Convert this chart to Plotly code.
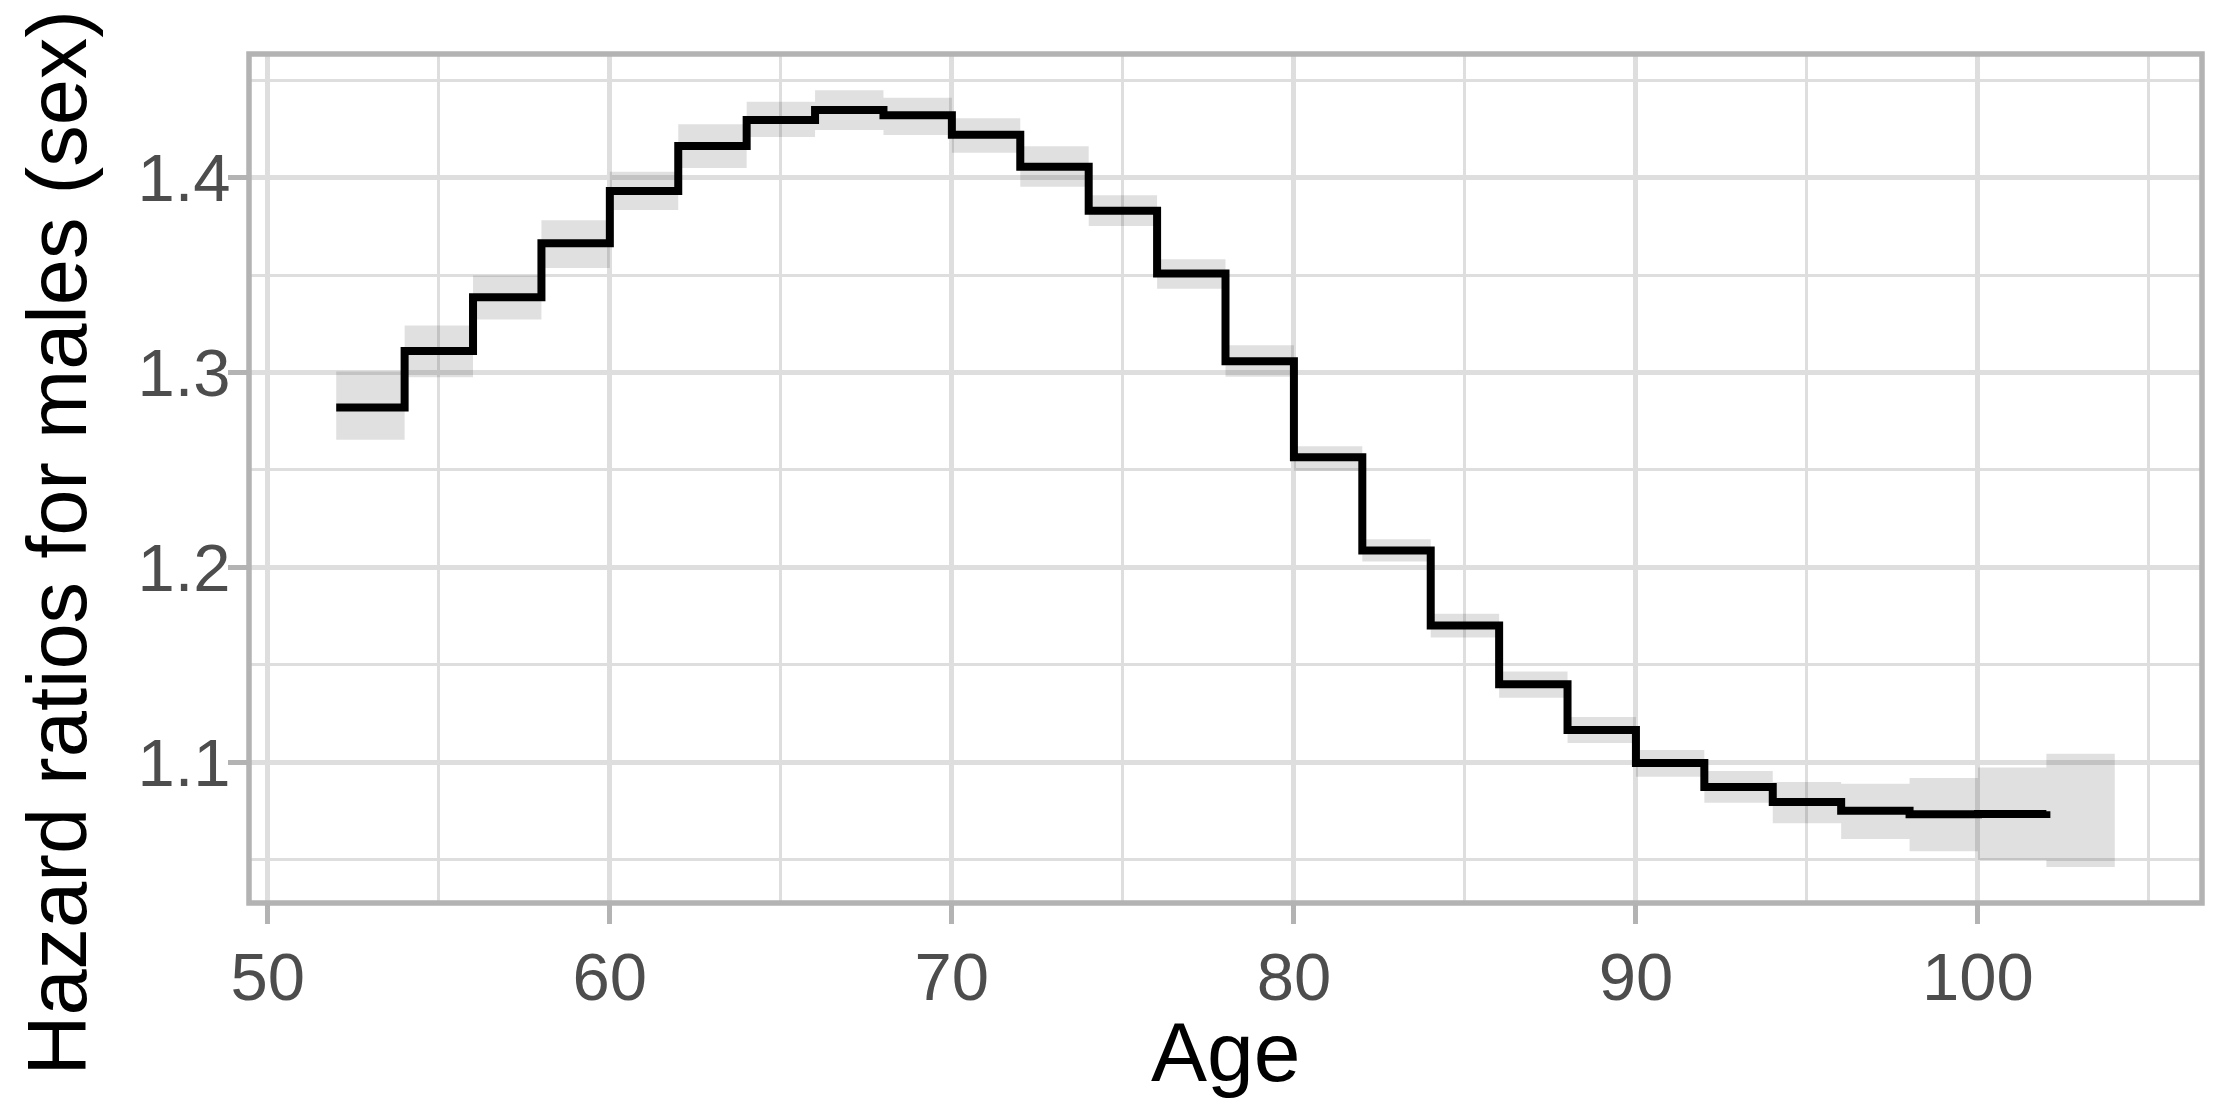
import plotly.graph_objects as go

# ---- data ----
age = [52, 54, 56, 58, 60, 62, 64, 66, 68, 70, 72, 74, 76, 78, 80,
       82, 84, 86, 88, 90, 92, 94, 96, 98, 100, 102]
hr = [1.2820, 1.3110, 1.3387, 1.3664, 1.3932, 1.4163, 1.4296, 1.4348, 1.4320,
      1.4221, 1.4056, 1.3831, 1.3508, 1.3058, 1.2565, 1.2087, 1.1701, 1.1400,
      1.1165, 1.0996, 1.0872, 1.0795, 1.0750, 1.0732, 1.0734, 1.0748]
lower = [1.2655, 1.2976, 1.3272, 1.3536, 1.3834, 1.4050, 1.4209, 1.4245, 1.4219,
         1.4128, 1.3954, 1.3752, 1.3430, 1.2978, 1.2496, 1.2030, 1.1640, 1.1331,
         1.1098, 1.0925, 1.0791, 1.0687, 1.0606, 1.0543, 1.0498, 1.0462]
upper = [1.3005, 1.3241, 1.3498, 1.3781, 1.4031, 1.4274, 1.4390, 1.4449, 1.4411,
         1.4305, 1.4161, 1.3910, 1.3581, 1.3140, 1.2622, 1.2144, 1.1762, 1.1465,
         1.1232, 1.1063, 1.0955, 1.0898, 1.0889, 1.0918, 1.0972, 1.1043]
band_width = 2  # each estimate covers a 2-year band

x_ticks = [50, 60, 70, 80, 90, 100]
x_minor = [55, 65, 75, 85, 95, 105]
y_ticks = [1.1, 1.2, 1.3, 1.4]
y_tick_text = ["1.1", "1.2", "1.3", "1.4"]
y_minor = [1.05, 1.15, 1.25, 1.35, 1.45]

x_title = "Age"
y_title = "Hazard ratios for males (sex)"

# ---- geometry (page pixels) ----
W, H = 2222, 1113
BODY = 8                      # default body margin of the html page
PL, PR, PT, PB = 249, 2202, 54, 903   # panel edges on the page
PW, PH = PR - PL, PB - PT

FONT = "Liberation Sans, Arial, Helvetica, sans-serif"
GRID = "#DEDEDE"
BORDER = "#B3B3B3"


def px_to_paper_x(px):
    return (px - PL) / PW


def px_to_paper_y(py):
    return (PB - py) / PH


rib_x = age + [age[-1] + band_width]
rib_lo = lower + [lower[-1]]
rib_hi = upper + [upper[-1]]

fig = go.Figure()
fig.add_trace(go.Scatter(x=rib_x, y=rib_lo, mode="lines",
                         line=dict(width=0, shape="hv"),
                         showlegend=False, hoverinfo="skip"))
fig.add_trace(go.Scatter(x=rib_x, y=rib_hi, mode="lines",
                         line=dict(width=0, shape="hv"),
                         fill="tonexty", fillcolor="rgba(0,0,0,0.12)",
                         showlegend=False, hoverinfo="skip"))
fig.add_trace(go.Scatter(x=age, y=hr, mode="lines",
                         line=dict(color="black", width=8, shape="hv"),
                         showlegend=False))

axis_common = dict(
    ticks="outside", ticklen=20, tickwidth=5, tickcolor=BORDER,
    showgrid=True, gridcolor=GRID, gridwidth=5,
    zeroline=False, showline=False,
    tickfont=dict(family=FONT, size=67, color="#4D4D4D"),
)

fig.update_layout(
    width=W - BODY, height=H - BODY,
    margin=dict(l=PL - BODY, r=W - PR, t=PT - BODY, b=H - PB, pad=0),
    paper_bgcolor="white", plot_bgcolor="white",
    showlegend=False,
    xaxis=dict(range=[49.45, 106.55], tickmode="array", tickvals=x_ticks,
               ticktext=[str(v) for v in x_ticks], ticklabelstandoff=-4,
               minor=dict(tickmode="array", tickvals=x_minor, showgrid=True,
                          gridcolor=GRID, gridwidth=3, ticks=""),
               **axis_common),
    yaxis=dict(range=[1.0277, 1.4635], tickmode="array", tickvals=y_ticks,
               ticktext=y_tick_text, ticklabelstandoff=-16,
               minor=dict(tickmode="array", tickvals=y_minor, showgrid=True,
                          gridcolor=GRID, gridwidth=3, ticks=""),
               **axis_common),
    shapes=[dict(type="rect", xref="paper", yref="paper", x0=0, x1=1, y0=0, y1=1,
                 line=dict(color=BORDER, width=5.5), layer="above")],
    annotations=[
        dict(text=x_title, xref="paper", yref="paper",
             x=0.5, y=px_to_paper_y(1052),
             xanchor="center", yanchor="middle", showarrow=False,
             font=dict(family=FONT, size=84, color="black")),
        dict(text=y_title, xref="paper", yref="paper",
             x=px_to_paper_x(BODY), y=px_to_paper_y(543),
             xanchor="left", yanchor="middle", textangle=-90, showarrow=False,
             font=dict(family=FONT, size=83, color="black")),
    ],
)

fig.write_html("out.html")
